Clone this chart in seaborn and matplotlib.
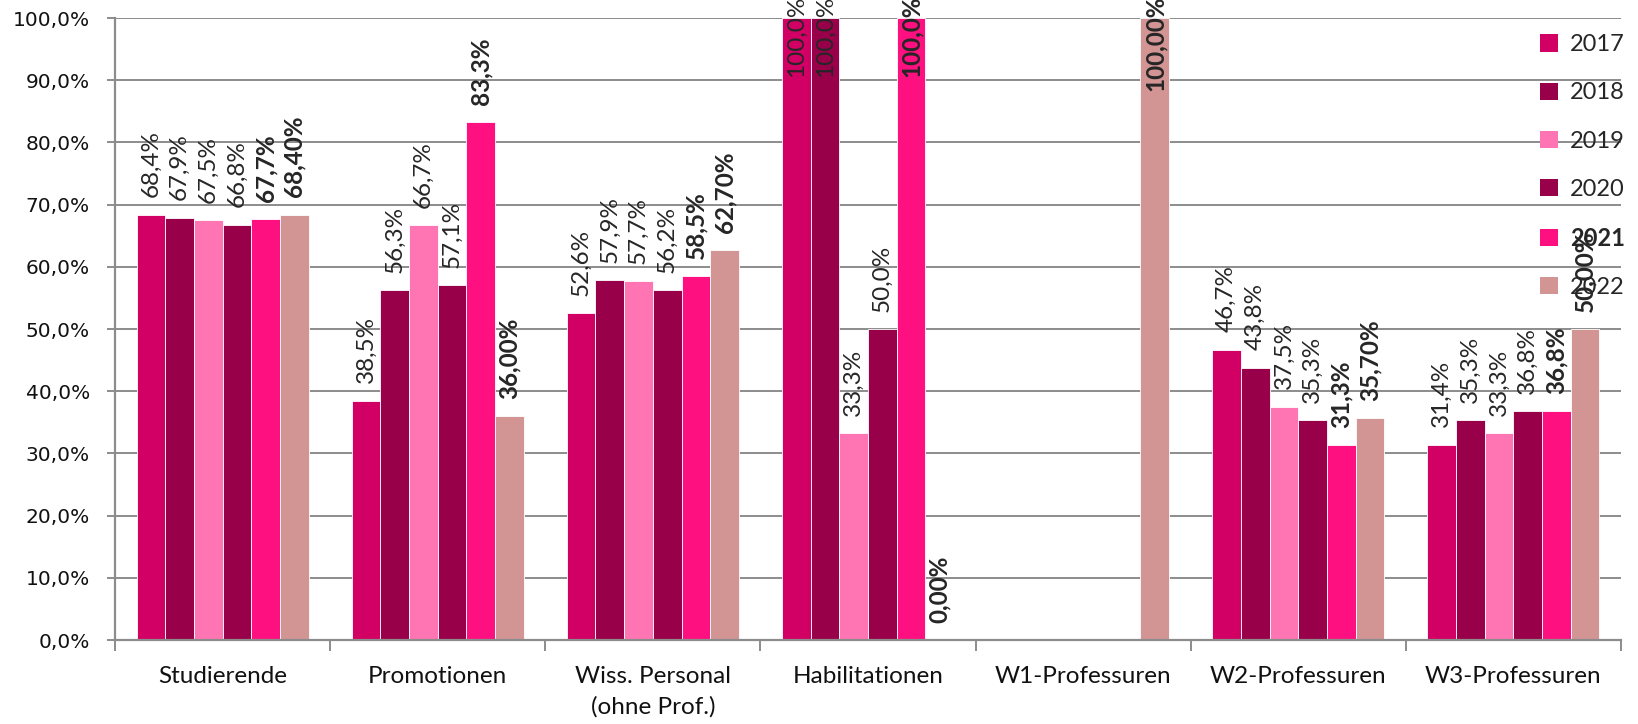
import numpy as np
import pandas as pd
import matplotlib
matplotlib.use("Agg")
import matplotlib.pyplot as plt
import seaborn as sns
from matplotlib.patches import Patch

# --- data (percent) ---
categories = ["Studierende", "Promotionen", "Wiss. Personal\n(ohne Prof.)",
              "Habilitationen", "W1-Professuren", "W2-Professuren", "W3-Professuren"]
years = ["2017", "2018", "2019", "2020", "2021", "2022"]

v2017 = [68.4, 38.5, 52.6, 100.0, np.nan, 46.7, 31.4]
v2018 = [67.9, 56.3, 57.9, 100.0, np.nan, 43.8, 35.3]
v2019 = [67.5, 66.7, 57.7, 33.3, np.nan, 37.5, 33.3]
v2020 = [66.8, 57.1, 56.2, 50.0, np.nan, 35.3, 36.8]
v2021 = [67.7, 83.3, 58.5, 100.0, np.nan, 31.3, 36.8]
v2022 = [68.4, 36.0, 62.7, 0.0, 100.0, 35.7, 50.0]

label_decimals = [1, 1, 1, 1, 1, 2]
label_bold = [False, False, False, False, True, True]

colors = ["#D20064", "#99004A", "#FF75B4", "#99004A", "#FF1080", "#D39494"]

series = [v2017, v2018, v2019, v2020, v2021, v2022]
df = pd.DataFrame({
    "Kategorie": categories * len(years),
    "Jahr": np.repeat(years, len(categories)),
    "Wert": np.concatenate(series),
})

sns.set_theme(style="white")
plt.rcParams["font.family"] = ["Lato", "DejaVu Sans"]

fig = plt.figure(figsize=(16.38, 7.24), dpi=100)
ax = fig.add_axes([0.0702, 0.116, 0.9194, 0.859])

sns.barplot(data=df, x="Kategorie", y="Wert", hue="Jahr", order=categories,
            hue_order=years, palette=colors, width=0.8, saturation=1,
            errorbar=None, legend=False, ax=ax, linewidth=0.6,
            edgecolor="white")

# data labels
for i, cont in enumerate(ax.containers):
    vals = [v for v in series[i] if not np.isnan(v)]
    for bar, v in zip(cont.patches, vals):
        txt = f"{v:.{label_decimals[i]}f}%".replace(".", ",")
        xc = bar.get_x() + bar.get_width() / 2
        weight = "bold" if label_bold[i] else "normal"
        if v >= 99:
            ax.annotate(txt, (xc, 100), xytext=(0, 16), textcoords="offset points",
                        rotation=90, ha="center", va="top", fontsize=17.5,
                        fontweight=weight, annotation_clip=False)
        else:
            ax.annotate(txt, (xc, v), xytext=(0, 12.5), textcoords="offset points",
                        rotation=90, ha="center", va="bottom", fontsize=17.5,
                        fontweight=weight, annotation_clip=False)

# axes styling
ax.set_ylim(0, 100)
ax.set_xlim(-0.5, len(categories) - 0.5)
ax.set_yticks(np.arange(0, 101, 10))
ax.set_yticklabels([f"{t:.1f}%".replace(".", ",") for t in np.arange(0, 101, 10)],
                   fontsize=14.5, family="DejaVu Sans", color="#111111")
ax.yaxis.grid(True, color="#8C8C8C", linewidth=1.4)
ax.set_axisbelow(True)

ax.set_xticks(np.arange(-0.5, len(categories), 1.0))
ax.set_xticklabels([])
ax.set_xticks(np.arange(len(categories)), minor=True)
ax.set_xticklabels(categories, minor=True, fontsize=17.5, color="#111111",
                   linespacing=1.5)
ax.tick_params(axis="x", which="major", length=8, width=1.4, color="#8C8C8C",
               direction="out", bottom=True)
ax.tick_params(axis="x", which="minor", length=0, pad=19)
ax.tick_params(axis="y", length=6, width=1.4, color="#8C8C8C", left=True, pad=12)

for s in ["top", "right"]:
    ax.spines[s].set_visible(False)
for s in ["left", "bottom"]:
    ax.spines[s].set_color("#8C8C8C")
    ax.spines[s].set_linewidth(1.6)

ax.set_xlabel("")
ax.set_ylabel("")

handles = [Patch(facecolor=c, edgecolor="none") for c in colors]
leg = fig.legend(handles, years, loc="upper right", bbox_to_anchor=(1.005, 0.982),
                 frameon=False, fontsize=17, handlelength=0.75, handleheight=0.75,
                 handletextpad=0.5, labelspacing=1.15)
leg.get_texts()[4].set_fontweight("bold")

fig.savefig("out.png", dpi=100)
